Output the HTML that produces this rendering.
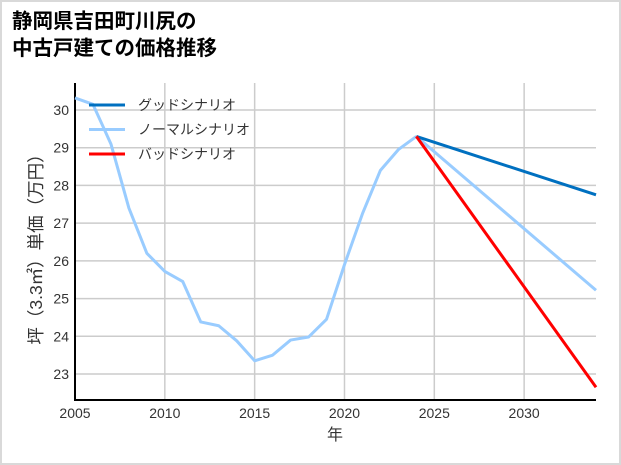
<!DOCTYPE html>
<html><head><meta charset="utf-8"><style>
html,body{margin:0;padding:0;background:#fff}
#wrap{position:relative;width:621px;height:465px;box-sizing:border-box;border:2px solid #d9d9d9;background:#fff;overflow:hidden}
svg text{font-family:"Liberation Sans","Noto Sans CJK JP",sans-serif}
</style></head><body>
<div id="wrap">
<svg id="chart" width="621" height="465" style="position:absolute;left:-2px;top:-2px">
<text x="12" y="28" font-size="20.5" font-weight="bold" fill="#000">静岡県吉田町川尻の</text>
<text x="12" y="55" font-size="20.5" font-weight="bold" fill="#000">中古戸建ての価格推移</text>
<g id="grid"></g><g id="axes"></g><g id="series"></g><g id="legend"></g>
</svg></div>
<script>
const years=[2005,2006,2007,2008,2009,2010,2011,2012,2013,2014,2015,2016,2017,2018,2019,2020,2021,2022,2023,2024];
const normalHist=[30.32,30.15,29.1,27.4,26.2,25.72,25.45,24.38,24.28,23.88,23.35,23.5,23.9,23.98,24.45,25.9,27.25,28.4,28.95,29.3];
const futureYears=[2024,2034];
const goodVals=[29.3,27.75];
const normalFuture=[29.3,25.22];
const badVals=[29.3,22.65];
const xTicks=[2005,2010,2015,2020,2025,2030];
const yTicks=[23,24,25,26,27,28,29,30];
const NS="http://www.w3.org/2000/svg";
const X0=75,X1=596,Y0=83,Y1=400;
function xs(v){return X0+(v-2005)*(X1-X0)/29;}
function ys(v){return 374-(v-23)*(264/7);}
function mk(tag,attrs,parent){const e=document.createElementNS(NS,tag);for(const k in attrs)e.setAttribute(k,attrs[k]);parent.appendChild(e);return e;}
const grid=document.getElementById('grid'),axes=document.getElementById('axes'),ser=document.getElementById('series'),leg=document.getElementById('legend');
xTicks.forEach(t=>{const l=mk('line',{x1:xs(t),x2:xs(t),y1:Y0,y2:Y1,stroke:'#ccc','stroke-width':1.5},grid);


const tx=mk('text',{x:xs(t),y:418,'text-anchor':'middle','font-size':14,fill:'#333'},axes);tx.textContent=t;

});
yTicks.forEach(t=>{const l=mk('line',{x1:X0,x2:X1,y1:ys(t),y2:ys(t),stroke:'#ccc','stroke-width':1.5},grid);


const tx=mk('text',{x:69,y:ys(t)+5,'text-anchor':'end','font-size':14,fill:'#333'},axes);tx.textContent=t;

});
const ax=mk('path',{d:`M${X0},${Y0} V${Y1} H${X1}`,fill:'none',stroke:'#000','stroke-width':2},axes);


const xt=mk('text',{x:335,y:440,'text-anchor':'middle','font-size':16,fill:'#333'},axes);xt.textContent='年';


const yt=mk('text',{x:0,y:0,'text-anchor':'middle','font-size':17.5,fill:'#333',transform:'translate(42,245) rotate(-90)'},axes);yt.textContent='坪（3.3㎡）単価（万円）';


function line(xv,yv,color,name){const d=xv.map((x,i)=>(i?'L':'M')+xs(x)+','+ys(yv[i])).join(' ');
const p=mk('path',{d:d,fill:'none',stroke:color,'stroke-width':3,'stroke-linejoin':'round'},ser);

}
line(years,normalHist,'#99ccff','normal-history-line');
line(futureYears,normalFuture,'#99ccff','normal-scenario-line');
line(futureYears,goodVals,'#0070c0','good-scenario-line');
line(futureYears,badVals,'#ff0000','bad-scenario-line');
[['グッドシナリオ','#0070c0'],['ノーマルシナリオ','#99ccff'],['バッドシナリオ','#ff0000']].forEach((e,i)=>{const y=105+i*24.5;
const l=mk('line',{x1:89,x2:125,y1:y,y2:y,stroke:e[1],'stroke-width':3},leg);


const t=mk('text',{x:138,y:y+5,'font-size':14,fill:'#333'},leg);t.textContent=e[0];

});
</script></body></html>
